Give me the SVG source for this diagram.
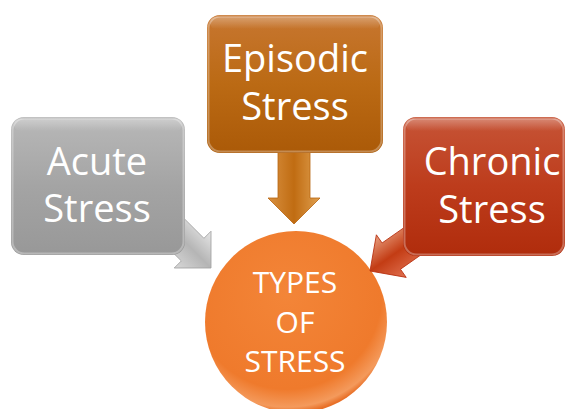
<svg xmlns="http://www.w3.org/2000/svg" width="569" height="409" viewBox="0 0 569 409">
  <defs>
    <style>
      .label { font-family: "Open Sans", "Liberation Sans", sans-serif; fill: #ffffff; text-anchor: middle; }
      .big { font-size: 38px; }
      .mid { font-size: 30px; }
      .gloss { fill: url(#gloss); }
      .rim { fill: none; stroke: #ffffff; stroke-opacity: 0.3; stroke-width: 2; }
    </style>
    <linearGradient id="gray" x1="0" y1="0" x2="0" y2="1">
      <stop offset="0" stop-color="#b8b8b8"/>
      <stop offset="0.5" stop-color="#a4a4a4"/>
      <stop offset="1" stop-color="#989898"/>
    </linearGradient>
    <linearGradient id="brown" x1="0" y1="0" x2="0" y2="1">
      <stop offset="0" stop-color="#c77630"/>
      <stop offset="0.5" stop-color="#bb6a14"/>
      <stop offset="1" stop-color="#ab5a08"/>
    </linearGradient>
    <linearGradient id="red" x1="0" y1="0" x2="0" y2="1">
      <stop offset="0" stop-color="#c65436"/>
      <stop offset="0.5" stop-color="#bd3c1c"/>
      <stop offset="1" stop-color="#b02c0c"/>
    </linearGradient>
    <linearGradient id="grayArrow" x1="0" y1="0" x2="0" y2="1">
      <stop offset="0" stop-color="#e6e6e6"/>
      <stop offset="0.5" stop-color="#b5b5b5"/>
      <stop offset="1" stop-color="#d8d8d8"/>
    </linearGradient>
    <linearGradient id="brownArrow" x1="0" y1="0" x2="0" y2="1">
      <stop offset="0" stop-color="#e0a050"/>
      <stop offset="0.5" stop-color="#c06c12"/>
      <stop offset="1" stop-color="#d89040"/>
    </linearGradient>
    <linearGradient id="redArrow" x1="0" y1="0" x2="0" y2="1">
      <stop offset="0" stop-color="#e07050"/>
      <stop offset="0.5" stop-color="#c33c14"/>
      <stop offset="1" stop-color="#e8a080"/>
    </linearGradient>
    <linearGradient id="gloss" x1="0" y1="0" x2="0" y2="1">
      <stop offset="0" stop-color="#ffffff" stop-opacity="0.3"/>
      <stop offset="1" stop-color="#ffffff" stop-opacity="0"/>
    </linearGradient>
    <radialGradient id="orange" cx="0.45" cy="0.35" r="0.65">
      <stop offset="0" stop-color="#f38538"/>
      <stop offset="0.8" stop-color="#ef7a2c"/>
      <stop offset="0.95" stop-color="#f49a5c"/>
      <stop offset="1" stop-color="#e87028"/>
    </radialGradient>
    <!-- block arrow pointing along +x with its tip at the origin -->
    <path id="blockArrow" d="M-75,-16 L-26,-16 L-26,-26 L0,0 L-26,26 L-26,16 L-75,16 Z"/>
  </defs>

  <rect width="569" height="409" fill="#ffffff"/>

  <!-- centre node -->
  <g id="types-of-stress">
    <circle cx="296" cy="322" r="91" fill="url(#orange)"/>
    <text class="label mid" x="295" y="293">TYPES</text>
    <text class="label mid" x="295" y="333">OF</text>
    <text class="label mid" x="295" y="372">STRESS</text>
  </g>

  <!-- connectors -->
  <g id="connectors">
    <use href="#blockArrow" transform="translate(294,224) rotate(90)" fill="url(#brownArrow)" stroke="#b86410" stroke-width="0.8"/>
    <use href="#blockArrow" transform="translate(211,268) rotate(45)" fill="url(#grayArrow)" stroke="#a0a0a0" stroke-width="0.8"/>
    <use href="#blockArrow" transform="translate(370,271) rotate(145)" fill="url(#redArrow)" stroke="#b83010" stroke-width="0.8"/>
  </g>

  <g id="acute-stress">
    <rect x="11" y="117" width="174" height="138" rx="13" fill="url(#gray)"/>
    <rect class="gloss" x="14" y="119" width="168" height="12" rx="6"/>
    <rect class="rim" x="12.5" y="118.5" width="171" height="135" rx="12"/>
    <text class="label big" x="97" y="175">Acute</text>
    <text class="label big" x="97" y="222">Stress</text>
  </g>

  <g id="episodic-stress">
    <rect x="207" y="15" width="176" height="138" rx="13" fill="url(#brown)"/>
    <rect class="gloss" x="210" y="17" width="170" height="12" rx="6"/>
    <rect class="rim" x="208.5" y="16.5" width="173" height="135" rx="12"/>
    <text class="label big" x="295" y="72">Episodic</text>
    <text class="label big" x="295" y="120">Stress</text>
  </g>

  <g id="chronic-stress">
    <rect x="403" y="117" width="162" height="139" rx="13" fill="url(#red)"/>
    <rect class="gloss" x="406" y="119" width="156" height="12" rx="6"/>
    <rect class="rim" x="404.5" y="118.5" width="159" height="136" rx="12"/>
    <text class="label big" x="492" y="175">Chronic</text>
    <text class="label big" x="492" y="223">Stress</text>
  </g>
</svg>
